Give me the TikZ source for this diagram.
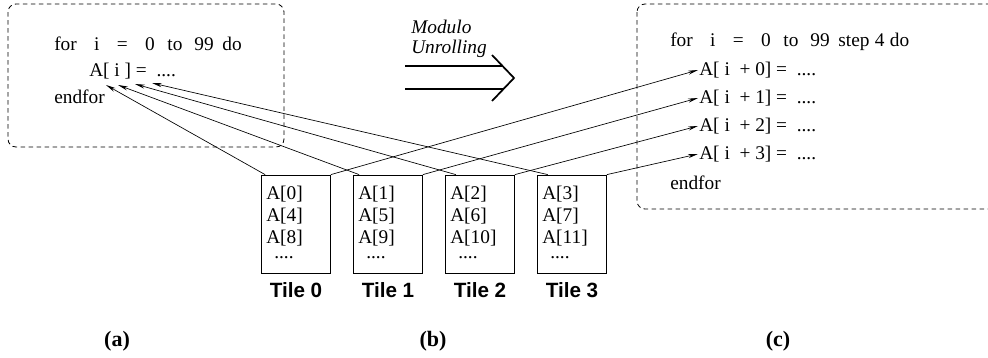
\documentclass[tikz,border=0pt]{standalone}
\usepackage{fontspec}
\setmainfont{Liberation Serif}
\setsansfont{Liberation Sans}
\usetikzlibrary{arrows.meta}

\begin{document}
\begin{tikzpicture}[x=0.75pt,y=0.75pt,yscale=-1,xscale=1,
  codebox/.style={draw, line width=0.6pt, dash pattern=on 3.5pt off 2.5pt, rounded corners=6pt},
  codetext/.style={anchor=west, inner sep=0.75pt, font=\fontsize{14.5}{17}\selectfont},
  tilelist/.style={anchor=north west, inner sep=0.75pt, align=left, font=\fontsize{14.5}{16.5}\selectfont},
  tile/.style={draw, line width=0.6pt, minimum width=51.75pt, minimum height=73.5pt, inner sep=0pt},
  tilelabel/.style={inner sep=0.75pt, font=\sffamily\bfseries\fontsize{15.5}{18}\selectfont},
  sublabel/.style={inner sep=0.75pt, font=\bfseries\fontsize{16.5}{19}\selectfont},
  mapto/.style={-{Stealth[length=7.5pt,width=3pt]}, line width=0.5pt}]
\useasboundingbox (0,0) rectangle (988,357);
\clip (0,0) rectangle (988,357);

%Dashed Boxes
\draw [codebox] (8,4) rectangle (284,147) ;
\draw [codebox] (637,4) rectangle (1010,209) ;

% Text Node (a) loop
\node [codetext] (lfor) at (53,44) {for\hspace{13pt}i\hspace{13pt}=\hspace{13pt}0\hspace{9.5pt}to\hspace{9pt}99\hspace{6.5pt}do};
\node [codetext] (lbody) at (88,71) {A[ i ] =\ \ ....};
\node [codetext] (lend) at (53,97) {endfor};

% Text Node (c) loop
\node [codetext] (rfor) at (669,42) {for\hspace{13pt}i\hspace{13pt}=\hspace{13pt}0\hspace{9.5pt}to\hspace{9pt}99\hspace{6.5pt}step\hspace{4pt}4\hspace{4pt}do};
\node [codetext] (rbody0) at (698,70) {A[ i\ \ + 0] =\ \ ....};
\node [codetext] (rbody1) at (698,98) {A[ i\ \ + 1] =\ \ ....};
\node [codetext] (rbody2) at (698,126) {A[ i\ \ + 2] =\ \ ....};
\node [codetext] (rbody3) at (698,154) {A[ i\ \ + 3] =\ \ ....};
\node [codetext] (rend) at (669,183) {endfor};

%Tiles
\node [tile] (tile0) at (296,224) {};
\node [tile] (tile1) at (388,224) {};
\node [tile] (tile2) at (480,224) {};
\node [tile] (tile3) at (572,224) {};

% Text Node tile contents
\node [tilelist] (tile0txt) at (265,185) {A[0]\\A[4]\\A[8]\\[-5.25pt]\hspace{6pt}....};
\node [tilelist] (tile1txt) at (357,185) {A[1]\\A[5]\\A[9]\\[-5.25pt]\hspace{6pt}....};
\node [tilelist] (tile2txt) at (449,185) {A[2]\\A[6]\\A[10]\\[-5.25pt]\hspace{6pt}....};
\node [tilelist] (tile3txt) at (541,185) {A[3]\\A[7]\\A[11]\\[-5.25pt]\hspace{6pt}....};

% Text Node tile labels
\node [tilelabel] (tlab0) at (296,290) {Tile 0};
\node [tilelabel] (tlab1) at (388,290) {Tile 1};
\node [tilelabel] (tlab2) at (480,290) {Tile 2};
\node [tilelabel] (tlab3) at (572,290) {Tile 3};

%Unrolling arrow
\draw [line width=1.3pt] (405,66) -- (503,66) ;
\draw [line width=1.3pt] (405,89) -- (503,89) ;
\draw [line width=1.3pt] (492,55) -- (514,78) -- (492,101) ;
\node [codetext, align=left, font=\itshape\fontsize{14.5}{15}\selectfont] (unroll) at (410,39) {Modulo\\Unrolling};

%Arrow ends below A[ i ]
\coordinate (lin0) at (106,85);
\coordinate (lin1) at (118,85);
\coordinate (lin2) at (135,84);
\coordinate (lin3) at (152,83);

%Straight Lines tiles to (a)
\draw [mapto] ([xshift=3pt]tile0.north west) -- (lin0) ;
\draw [mapto] ([xshift=4.5pt]tile1.north west) -- (lin1) ;
\draw [mapto] ([xshift=8pt]tile2.north west) -- (lin2) ;
\draw [mapto] ([xshift=8pt]tile3.north west) -- (lin3) ;
%Straight Lines tiles to (c)
\draw [mapto] (tile0.north east) -- (rbody0.west) ;
\draw [mapto] (tile1.north east) -- (rbody1.west) ;
\draw [mapto] (tile2.north east) -- (rbody2.west) ;
\draw [mapto] (tile3.north east) -- (rbody3.west) ;

% Text Node captions
\node [sublabel] (capa) at (117,341) {(a)};
\node [sublabel] (capb) at (433,341) {(b)};
\node [sublabel] (capc) at (778,341) {(c)};

\end{tikzpicture}
\end{document}
